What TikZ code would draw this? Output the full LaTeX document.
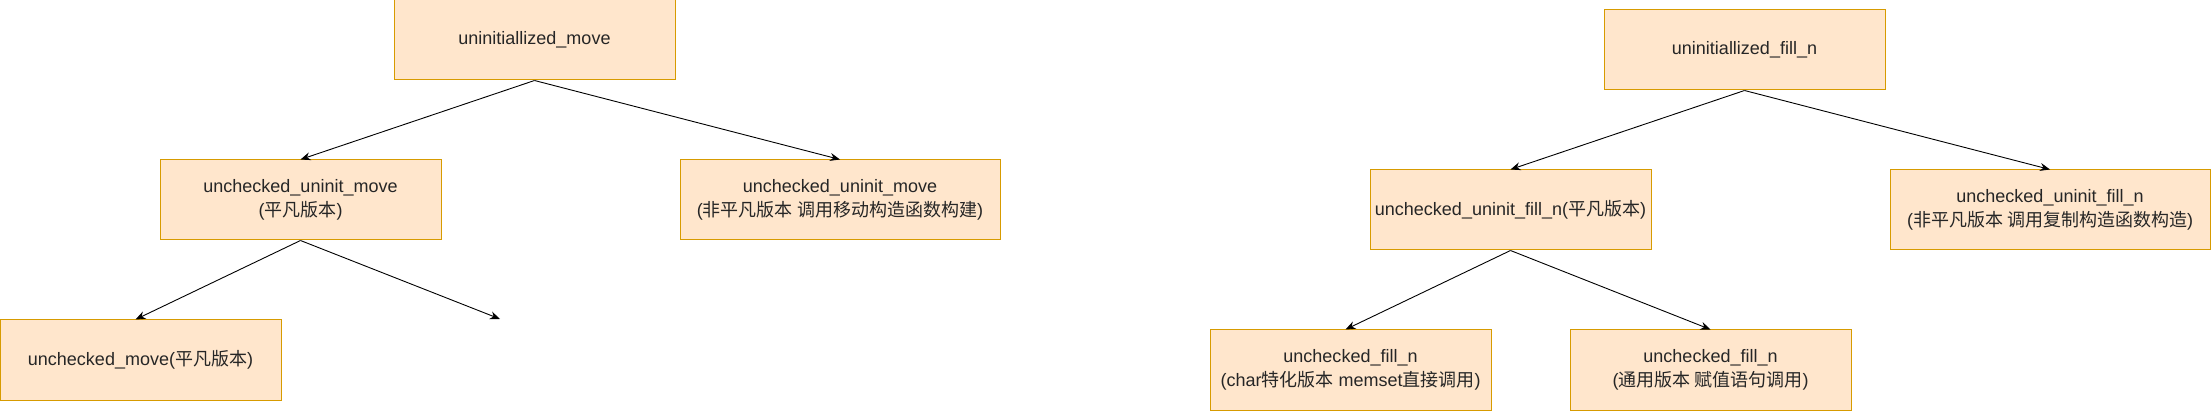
\documentclass[tikz,border=0pt]{standalone}
\usepackage{fontspec}
\setmainfont{Liberation Sans}
\newfontfamily\cjk{Noto Sans CJK SC}
\usepackage{xcolor}
\usetikzlibrary{arrows.meta}
\definecolor{boxfill}{HTML}{FFE6CC}
\definecolor{boxline}{HTML}{D79B00}
\definecolor{boxtext}{HTML}{262626}
\newcommand{\zh}[1]{{\cjk #1}}

\begin{document}
\begin{tikzpicture}[
    x=1pt, y=-1pt,
    box/.style = {rectangle, draw=boxline, fill=boxfill, text=boxtext, line width=1pt, minimum width=281pt, minimum height=80pt, inner sep=0pt, align=center, font=\fontsize{18}{24}\selectfont},
    widebox/.style = {box, minimum width=320pt},
    arrow/.style = {line width=0.9pt, -{Stealth[length=10pt, width=8pt]}}
]
    \useasboundingbox (0,0) rectangle (2211,411);

    % Nodes: uninitialized_move
    \node (move) [box] at (534.5,40) {uninitiallized\_move};
    \node (umove) [box] at (300.5,200) {unchecked\_uninit\_move\\(\zh{平凡版本})};
    \node (umovenon) [widebox] at (840,200) {unchecked\_uninit\_move\\(\zh{非平凡版本 调用移动构造函数构建})};
    \node (cmove) [box] at (140.5,360) {unchecked\_move(\zh{平凡版本})};
    \coordinate (loose) at (500,319);

    % Nodes: uninitialized_fill_n
    \node (fill) [box] at (1744.5,50) {uninitiallized\_fill\_n};
    \node (ufill) [box] at (1510.5,210) {unchecked\_uninit\_fill\_n(\zh{平凡版本})};
    \node (ufillnon) [widebox] at (2050,210) {unchecked\_uninit\_fill\_n\\(\zh{非平凡版本 调用复制构造函数构造})};
    \node (cfill) [box] at (1350.5,370) {unchecked\_fill\_n\\(char\zh{特化版本} memset\zh{直接调用})};
    \node (gfill) [box] at (1710.5,370) {unchecked\_fill\_n\\(\zh{通用版本 赋值语句调用})};

    % Arrows
    \draw [arrow] (move.south) -- (umove.north);
    \draw [arrow] (move.south) -- (umovenon.north);
    \draw [arrow] (umove.south) -- ([xshift=-5pt]cmove.north);
    \draw [arrow] (umove.south) -- (loose);
    \draw [arrow] (fill.south) -- (ufill.north);
    \draw [arrow] (fill.south) -- (ufillnon.north);
    \draw [arrow] (ufill.south) -- ([xshift=-5pt]cfill.north);
    \draw [arrow] (ufill.south) -- (gfill.north);

\end{tikzpicture}
\end{document}
